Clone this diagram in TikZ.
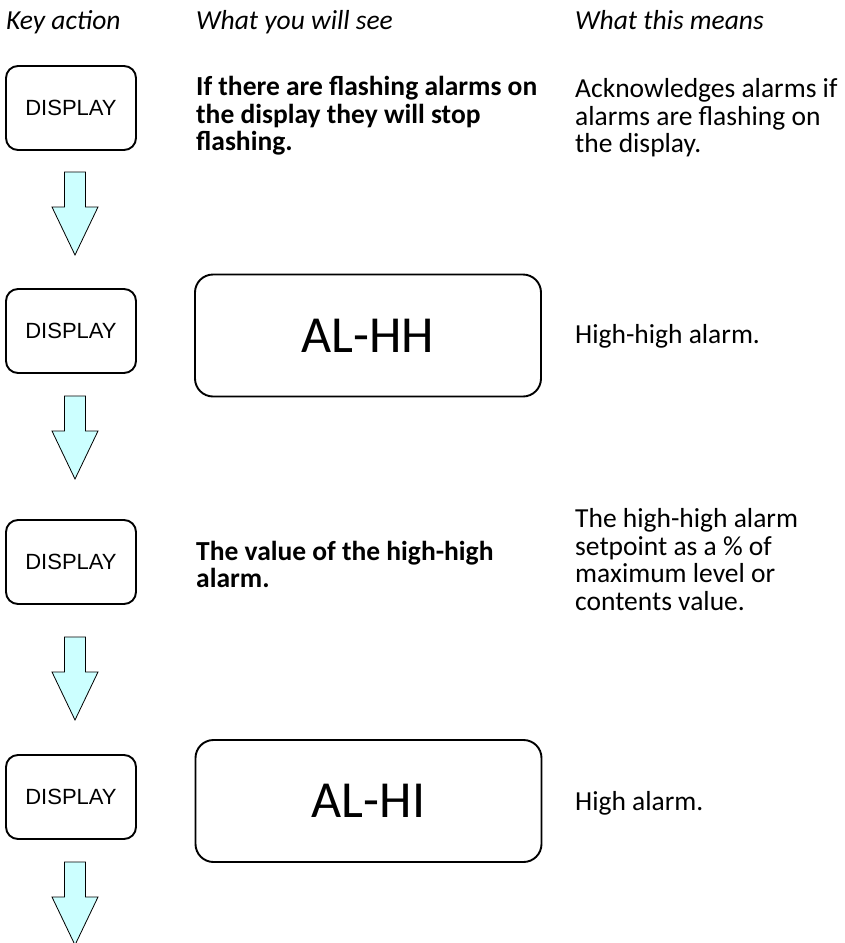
\documentclass[tikz,border=0pt]{standalone}
\usepackage{fontspec}
\setmainfont{Carlito}
\newfontfamily\arialfont{Liberation Sans}
\usetikzlibrary{positioning}

\definecolor{arrowfill}{HTML}{CCFFFF}

\tikzset{
  keybox/.style={draw, line width=1.9pt, rounded corners=12pt,
    minimum width=130pt, minimum height=84pt, inner sep=0pt,
    font=\arialfont\fontsize{22}{26}\selectfont},
  dispbox/.style={draw, line width=1.9pt, rounded corners=18pt,
    minimum width=346pt, minimum height=122pt, inner sep=0pt,
    font=\fontsize{52}{60}\selectfont},
  colhead/.style={anchor=base west, inner sep=0pt,
    font=\itshape\fontsize{27.5}{27.5}\selectfont},
  seetext/.style={anchor=north west, inner sep=0pt, align=left,
    font=\bfseries\fontsize{27.5}{27.5}\selectfont},
  meantext/.style={anchor=north west, inner sep=0pt, align=left,
    font=\fontsize{27.5}{27.5}\selectfont},
  downarrow/.style={draw, line width=0.8pt, fill=arrowfill}
}

\begin{document}
\begin{tikzpicture}[x=1pt, y=-1pt]
  \useasboundingbox (0,0) rectangle (844,943);

  % column heads
  \node[colhead] (headkey)  at (6,29)   {Key action};
  \node[colhead] (headsee)  at (196,29) {What you will see};
  \node[colhead] (headmean) at (575,29) {What this means};

  % key presses
  \node[keybox] (key1) at (71,108) {DISPLAY};
  \node[keybox] (key2) at (71,331) {DISPLAY};
  \node[keybox] (key3) at (71,562) {DISPLAY};
  \node[keybox] (key4) at (71,797) {DISPLAY};

  % what you will see
  \node[seetext] (see1) at (196,76.5)
    {If there are flashing alarms on\\the display they will stop\\flashing.};
  \node[dispbox] (see2) at (368,335.5) {AL-HH};
  \node[seetext] (see3) at (196,540.5)
    {The value of the high-high\\alarm.};
  \node[dispbox] (see4) at (368.5,801) {AL-HI};

  % what this means
  \node[meantext] (mean1) at (575,78.5)
    {Acknowledges alarms if\\alarms are flashing on\\the display.};
  \node[meantext] (mean2) at (575,324.5) {High-high alarm.};
  \node[meantext] (mean3) at (575,508.5)
    {The high-high alarm\\setpoint as a \% of\\maximum level or\\contents value.};
  \node[meantext] (mean4) at (575,791.5) {High alarm.};

  % block arrows under each key
  \foreach \t in {172,396,637,862}
  {
    \draw[downarrow] (64.5,\t) -- (85.5,\t) -- (85.5,\t+35) -- (98,\t+35)
      -- (75,\t+83) -- (52,\t+35) -- (64.5,\t+35) -- cycle;
  }

\end{tikzpicture}
\end{document}
